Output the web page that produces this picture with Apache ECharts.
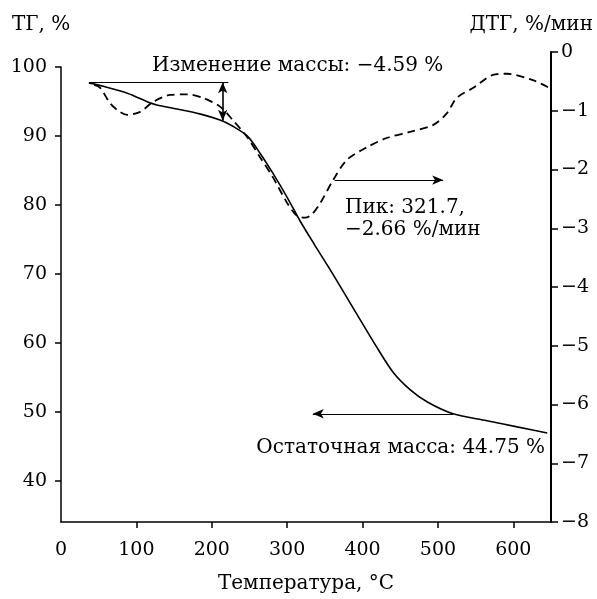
<!DOCTYPE html>
<html>
<head>
<meta charset="utf-8">
<script src="https://cdn.jsdelivr.net/npm/echarts@6/dist/echarts.min.js"></script>
<style>
  html, body { margin: 0; padding: 0; background: #fff; }
  #chart { width: 597px; height: 599px; }
</style>
</head>
<body>
<div id="chart"></div>
<script>
// ТГ (сплошная линия)
var tgTemp = [37, 56, 88, 118, 127, 154, 184, 211, 228, 247, 264, 281, 300, 317, 337, 357, 373, 390, 417, 440, 463, 486, 520, 565, 605, 645];
var tgVal = [97.7, 97.2, 96.2, 94.8, 94.5, 93.9, 93.2, 92.3, 91.4, 90.0, 87.5, 84.6, 81.1, 77.7, 74.1, 70.6, 67.7, 64.6, 59.7, 55.8, 53.2, 51.4, 49.7, 48.7, 47.8, 46.9];
// ДТГ (штриховая линия)
var dtgTemp = [44, 52, 65, 76, 88, 105, 122, 145, 167, 188, 211, 228, 247, 264, 281, 300, 313, 324, 333, 344, 361, 379, 406, 433, 463, 494, 512, 525, 547, 573, 592, 626, 646];
var dtgVal = [-0.56, -0.61, -0.87, -1.00, -1.07, -1.02, -0.85, -0.73, -0.72, -0.78, -0.93, -1.16, -1.45, -1.79, -2.13, -2.57, -2.79, -2.82, -2.76, -2.57, -2.18, -1.84, -1.62, -1.46, -1.36, -1.24, -1.04, -0.78, -0.61, -0.39, -0.37, -0.48, -0.60];

var xTicks = [100, 200, 300, 400, 500, 600];
var xLabels = [0, 100, 200, 300, 400, 500, 600];
var tgTicks = [40, 50, 60, 70, 80, 90, 100];

// аннотации (в единицах данных)
var massLine = [37, 222, 97.8];      // T от, T до, уровень ТГ
var massArrow = [214.5, 97.8, 92.2]; // T, верх, низ
var peakArrow = [363, 507, -2.18];   // T от, T до, ДТГ
var restArrow = [520, 334, 49.7];    // T от, T до, ТГ

var FONT = 'DejaVu Serif';
var TXT = '20px "DejaVu Serif"';

function zip(a, b) {
    var out = [];
    for (var i = 0; i < a.length; i++) out.push([a[i], b[i]]);
    return out;
}
function minus(v) {
    return String(v).replace('-', '\u2212');
}

var chart = echarts.init(document.getElementById('chart'));

var option = {
    animation: false,
    grid: [
        { left: 61, right: 46, top: 67, bottom: 77 },
        { left: 61, right: 46, top: 52, bottom: 77 }
    ],
    xAxis: [
        {
            type: 'value', gridIndex: 0, min: 0, max: 650,
            name: 'Температура, °С', nameLocation: 'middle', nameGap: 52,
            nameTextStyle: { fontFamily: FONT, fontSize: 20, color: '#000' },
            axisLine: { onZero: false, lineStyle: { color: '#000', width: 1.5 } },
            axisTick: { length: 6, lineStyle: { color: '#000', width: 1.5 }, customValues: xTicks },
            axisLabel: { fontFamily: FONT, fontSize: 19, color: '#000', margin: 19, customValues: xLabels },
            splitLine: { show: false }
        },
        {
            type: 'value', gridIndex: 1, min: 0, max: 650, show: false
        }
    ],
    yAxis: [
        {
            type: 'value', gridIndex: 0, min: 34, max: 100, position: 'left',
            axisLine: { show: true, onZero: false, lineStyle: { color: '#000', width: 1.5 } },
            axisTick: { show: true, length: 6, lineStyle: { color: '#000', width: 1.5 }, customValues: tgTicks },
            axisLabel: { fontFamily: FONT, fontSize: 19, color: '#000', margin: 14, customValues: tgTicks },
            splitLine: { show: false }
        },
        {
            type: 'value', gridIndex: 1, min: -8, max: 0, interval: 1, position: 'right',
            axisLine: { show: true, onZero: false, lineStyle: { color: '#000', width: 2 } },
            axisTick: { show: true, length: 7, lineStyle: { color: '#000', width: 1.5 } },
            axisLabel: { fontFamily: FONT, fontSize: 19, color: '#000', margin: 10, formatter: minus },
            splitLine: { show: false }
        }
    ],
    series: [
        {
            name: 'ТГ', type: 'line', xAxisIndex: 0, yAxisIndex: 0,
            data: zip(tgTemp, tgVal), smooth: 0.3, showSymbol: false,
            lineStyle: { color: '#000', width: 1.6 },
            markLine: {
                silent: true, symbolSize: [7, 11],
                label: { show: false },
                lineStyle: { color: '#000', width: 1.2, type: 'solid' },
                data: [
                    [{ coord: [massLine[0], massLine[2]], symbol: 'none' }, { coord: [massLine[1], massLine[2]], symbol: 'none' }],
                    [{ coord: [massArrow[0], massArrow[1]], symbol: 'arrow' }, { coord: [massArrow[0], massArrow[2]], symbol: 'arrow', lineStyle: { width: 1.6 } }],
                    [{ coord: [restArrow[0], restArrow[2]], symbol: 'none' }, { coord: [restArrow[1], restArrow[2]], symbol: 'arrow' }]
                ]
            }
        },
        {
            name: 'ДТГ', type: 'line', xAxisIndex: 1, yAxisIndex: 1,
            data: zip(dtgTemp, dtgVal), smooth: 0.3, showSymbol: false,
            lineStyle: { color: '#000', width: 1.8, type: [8, 5] },
            markLine: {
                silent: true, symbolSize: [7, 11],
                label: { show: false },
                lineStyle: { color: '#000', width: 1.2, type: 'solid' },
                data: [
                    [{ coord: [peakArrow[0], peakArrow[2]], symbol: 'none' }, { coord: [peakArrow[1], peakArrow[2]], symbol: 'arrow' }]
                ]
            }
        }
    ],
    graphic: [
        { type: 'text', left: 12, top: 15, style: { text: 'ТГ, %', font: TXT, fill: '#000' } },
        { type: 'text', right: 4, top: 15, style: { text: 'ДТГ, %/мин', font: TXT, fill: '#000' } },
        { type: 'text', left: 152, top: 56, style: { text: 'Изменение массы: \u22124.59 %', font: TXT, fill: '#000' } },
        { type: 'text', left: 345, top: 198, style: { text: 'Пик: 321.7,', font: TXT, fill: '#000' } },
        { type: 'text', left: 345, top: 220, style: { text: '\u22122.66 %/мин', font: TXT, fill: '#000' } },
        { type: 'text', right: 52, top: 438, style: { text: 'Остаточная масса: 44.75 %', font: TXT, fill: '#000' } }
    ]
};
chart.setOption(option);
</script>
</body>
</html>
